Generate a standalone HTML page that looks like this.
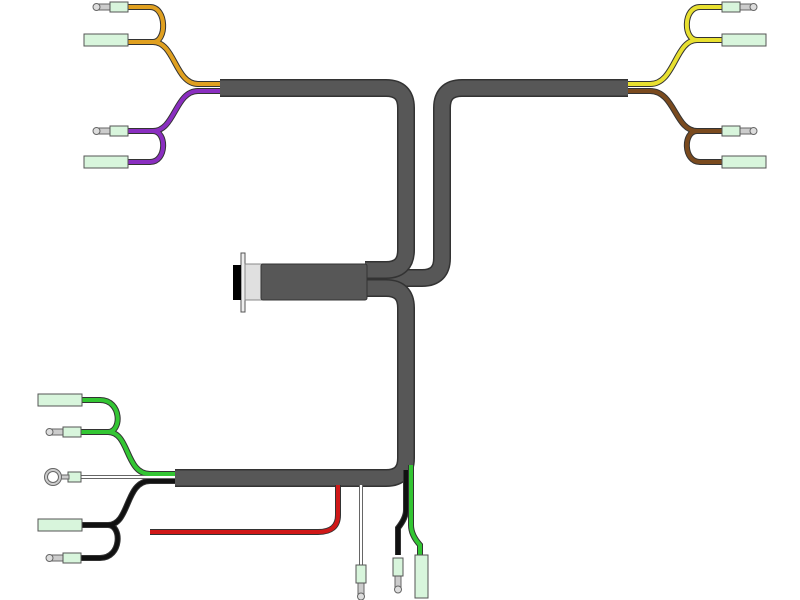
<!DOCTYPE html>
<html><head><style>body{margin:0;background:#fff}svg{display:block}</style></head>
<body>
<svg width="800" height="600" viewBox="0 0 800 600" xmlns="http://www.w3.org/2000/svg">
<defs>
<g id="sc"><rect x="-15" y="-3" width="12" height="6" fill="#ccc" stroke="#666" stroke-width="1"/><rect x="-20" y="-3.5" width="7" height="7" rx="3.5" fill="#ddd" stroke="#666"/><rect x="-3" y="-5" width="18" height="10" fill="#d8f5dc" stroke="#555"/></g>
<g id="lc"><rect x="0" y="-6" width="44" height="12" fill="#d8f5dc" stroke="#555"/></g>
</defs>
<g fill="none" stroke-linecap="butt">
<!-- sleeves -->
<path d="M628,88 H462 Q442,88 442,108 V258 Q442,278 422,278 H365" stroke="#333" stroke-width="18"/>
<path d="M628,88 H462 Q442,88 442,108 V258 Q442,278 422,278 H365" stroke="#575757" stroke-width="15"/>
<path d="M220,88 H386 Q406,88 406,108 V250 Q406,270 386,270 H365" stroke="#333" stroke-width="18"/>
<path d="M220,88 H386 Q406,88 406,108 V250 Q406,270 386,270 H365" stroke="#575757" stroke-width="15"/>
<path d="M365,288 H386 Q406,288 406,308 V458 Q406,478 386,478 H175" stroke="#333" stroke-width="18"/>
<path d="M365,288 H386 Q406,288 406,308 V458 Q406,478 386,478 H175" stroke="#575757" stroke-width="15"/>
<!-- wires: outline then color -->
<g stroke="#333" stroke-width="6">
<path d="M220,84 H198 C175,84 175,42 153,42 H128 M153,42 C167,42 167,7 150,7 H128"/>
<path d="M220,91 H198 C175,91 175,131 153,131 H128 M153,131 C167,131 167,162 150,162 H128"/>
<path d="M628,84 H650 C675,84 675,40 697,40 H722 M697,40 C683,40 683,7 700,7 H722"/>
<path d="M628,91 H650 C675,91 675,131 697,131 H722 M697,131 C683,131 683,162 700,162 H722"/>
<path d="M175,474 H150 C125,474 130,432 108,432 H81 M108,432 C122,432 122,400 100,400 H81"/>
<path d="M175,481 H150 C125,481 130,525 108,525 H81 M108,525 C122,525 122,558 100,558 H81"/>
<path d="M338,485 V515 Q338,532 318,532 H150"/>
<path d="M406,470 V510 Q406,518 398,528 V555"/>
<path d="M411,465 V525 Q411,535 420,545 V555"/>
</g>
<path d="M175,477 H81" stroke="#666" stroke-width="4"/>
<path d="M175,477 H81" stroke="#fff" stroke-width="2"/>
<path d="M361,485 V568" stroke="#666" stroke-width="4"/>
<path d="M361,485 V568" stroke="#fff" stroke-width="2"/>
<g stroke-width="4">
<path stroke="#e0a020" d="M220,84 H198 C175,84 175,42 153,42 H128 M153,42 C167,42 167,7 150,7 H128"/>
<path stroke="#8a2ec0" d="M220,91 H198 C175,91 175,131 153,131 H128 M153,131 C167,131 167,162 150,162 H128"/>
<path stroke="#e8e030" d="M628,84 H650 C675,84 675,40 697,40 H722 M697,40 C683,40 683,7 700,7 H722"/>
<path stroke="#7a4a1e" d="M628,91 H650 C675,91 675,131 697,131 H722 M697,131 C683,131 683,162 700,162 H722"/>
<path stroke="#33c633" d="M175,474 H150 C125,474 130,432 108,432 H81 M108,432 C122,432 122,400 100,400 H81"/>
<path stroke="#111" d="M175,481 H150 C125,481 130,525 108,525 H81 M108,525 C122,525 122,558 100,558 H81"/>
<path stroke="#d01818" d="M338,485 V515 Q338,532 318,532 H150"/>
<path stroke="#111" d="M406,470 V510 Q406,518 398,528 V555"/>
<path stroke="#33c633" d="M411,465 V525 Q411,535 420,545 V555"/>
</g>
</g>
<!-- connectors -->
<use href="#sc" transform="translate(113,7)"/>
<use href="#lc" transform="translate(84,40)"/>
<use href="#sc" transform="translate(113,131)"/>
<use href="#lc" transform="translate(84,162)"/>
<use href="#sc" transform="translate(737,7) scale(-1,1)"/>
<use href="#lc" transform="translate(722,40)"/>
<use href="#sc" transform="translate(737,131) scale(-1,1)"/>
<use href="#lc" transform="translate(722,162)"/>
<use href="#lc" transform="translate(38,400)"/>
<use href="#sc" transform="translate(66,432)"/>
<use href="#lc" transform="translate(38,525)"/>
<use href="#sc" transform="translate(66,558)"/>
<rect x="68" y="472" width="13" height="10" fill="#d8f5dc" stroke="#555"/>
<rect x="61" y="475" width="8" height="4" fill="#ccc" stroke="#666"/>
<circle cx="53" cy="477" r="7" fill="none" stroke="#666" stroke-width="4"/>
<circle cx="53" cy="477" r="7" fill="none" stroke="#ccc" stroke-width="2"/>
<use href="#sc" transform="translate(361,580) rotate(-90)"/>
<use href="#sc" transform="translate(398,573) rotate(-90)"/>
<rect x="415" y="555" width="13" height="43" fill="#d8f5dc" stroke="#555"/>
<!-- main connector -->
<rect x="241" y="253" width="4" height="59" fill="#eee" stroke="#555"/>
<rect x="233" y="265" width="8" height="35" fill="#000"/>
<rect x="245" y="264" width="17" height="36" fill="#e0e0e0" stroke="#888"/>
<rect x="261" y="264" width="106" height="36" rx="2" fill="#575757" stroke="#333"/>
</svg>
</body></html>
